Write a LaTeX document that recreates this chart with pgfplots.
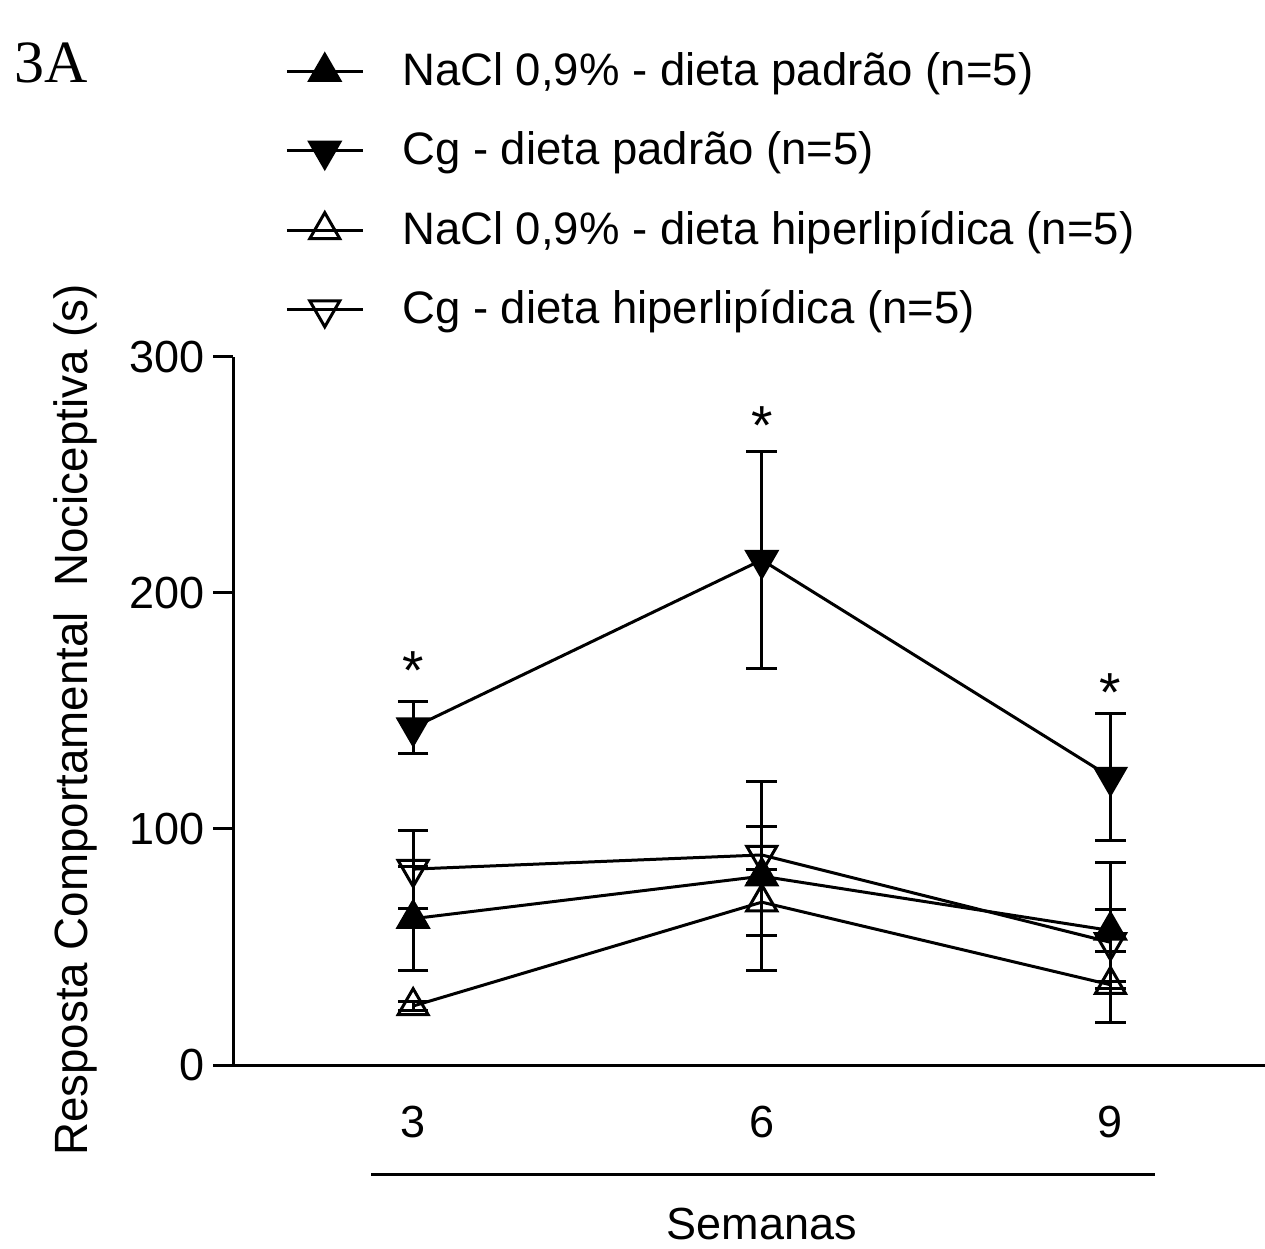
\documentclass[border=0pt]{standalone}
\usepackage{pgfplots}
\pgfplotsset{compat=1.18}
\usepackage{fontspec}
\setmainfont{Liberation Sans}
\newfontfamily\seriffont{Liberation Serif}

\pgfplotsset{myplot/.style={black, line width=0.9pt, mark size=5.2pt,
    error bars/y dir=both, error bars/y explicit,
    error bars/error bar style={line width=0.9pt, solid},
    error bars/error mark options={rotate=90, mark size=4.6pt, line width=0.9pt, black}}}

\begin{document}
\begin{tikzpicture}[x=1pt,y=1pt]
\useasboundingbox (0,0) rectangle (379.5,374.4);
\begin{axis}[
  at={(69.9pt,54.9pt)}, anchor=south west,
  scale only axis, width=309.6pt, height=212.4pt,
  xmin=1.45, xmax=10.33, ymin=0, ymax=300,
  axis x line*=bottom, axis y line*=left,
  axis line style={line width=0.9pt, -},
  xtick={3,6,9}, ytick={0,100,200,300},
  x tick style={draw=none},
  y tick style={line width=0.9pt, black},
  tick align=outside, major tick length=6pt,
  ticklabel style={font=\fontsize{13.5}{16}\selectfont},
  /pgf/number format/assume math mode=true,
  xticklabel style={yshift=-2.8pt},
  yticklabel style={xshift=1pt},
  legend style={at={(0.05,1.44)}, anchor=north west, draw=none, fill=none,
    font=\fontsize{13.65}{16}\selectfont, row sep=8.3pt, column sep=9.4pt, inner sep=0pt},
  legend cell align=left,
  legend image code/.code={\draw[#1, mark repeat=2, mark phase=2] plot coordinates {(0pt,0pt) (11.4pt,0pt) (22.8pt,0pt)};},
  clip=false,
]
\addplot[myplot, mark=triangle*, mark options={solid, fill=black, draw=black}] coordinates {
  (3,62) +- (0,22)
  (6,80) +- (0,40)
  (9,57) +- (0,9)
};
\addlegendentry{NaCl 0,9\% - dieta padrão (n=5)}
\addplot[myplot, mark=triangle*, mark options={solid, fill=black, draw=black, rotate=180}] coordinates {
  (3,143) +- (0,11)
  (6,214) +- (0,46)
  (9,122) +- (0,27)
};
\addlegendentry{Cg - dieta padrão (n=5)}
\addplot[myplot, mark=triangle, mark options={solid, fill=none, draw=black}] coordinates {
  (3,25) +- (0,2)
  (6,69) +- (0,14)
  (9,34) +- (0,1.5)
};
\addlegendentry{NaCl 0,9\% - dieta hiperlipídica (n=5)}
\addplot[myplot, mark=triangle, mark options={solid, fill=none, draw=black, rotate=180}] coordinates {
  (3,83) +- (0,16.5)
  (6,89) +- (0,12)
  (9,52) +- (0,34)
};
\addlegendentry{Cg - dieta hiperlipídica (n=5)}
\node[font=\fontsize{16.5}{16}\selectfont] at (axis cs:3,167) {*};
\node[font=\fontsize{16.5}{16}\selectfont] at (axis cs:6,271) {*};
\node[font=\fontsize{16.5}{16}\selectfont] at (axis cs:9,158) {*};
\end{axis}
\node[rotate=90, font=\fontsize{14}{16}\selectfont] at (22.5,158.4) {\scalebox{0.98}[1]{Resposta Comportamental\ \ Nociceptiva (s)}};
\draw[line width=0.9pt] (111.3,22.2) -- (346.5,22.2);
\node[font=\fontsize{13.5}{16}\selectfont] at (228.6,7.3) {Semanas};
\node[font=\seriffont\fontsize{18}{20}\selectfont, anchor=base east, inner sep=0pt] at (26.6,349.5) {3A};
\end{tikzpicture}
\end{document}
